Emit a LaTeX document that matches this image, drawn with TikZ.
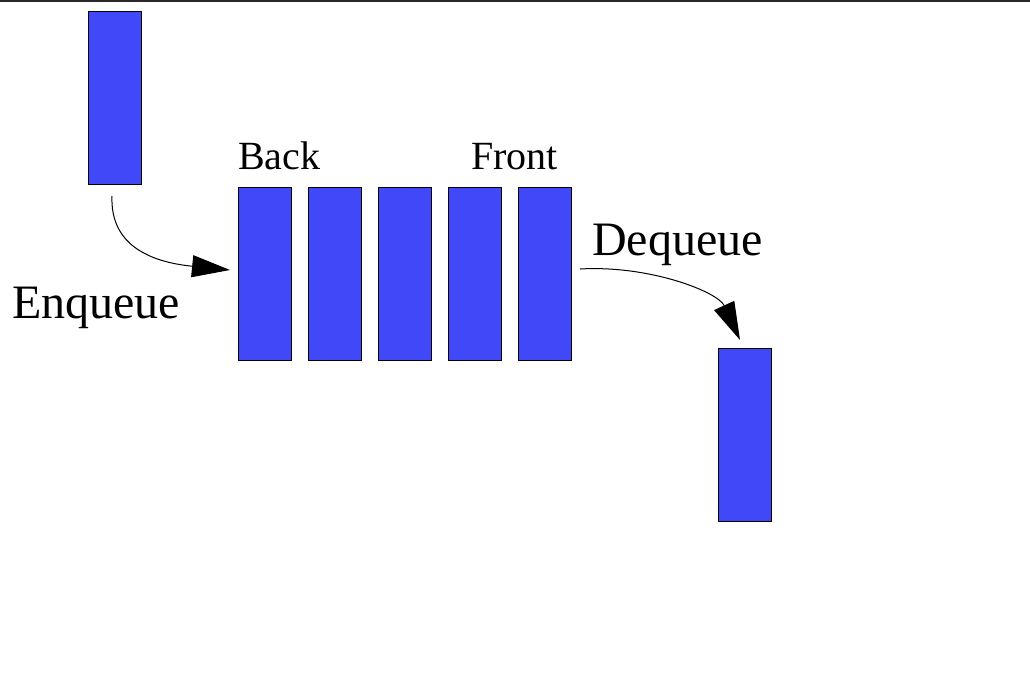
\documentclass[tikz,border=0pt]{standalone}
\usepackage{fontspec}
\setmainfont{Liberation Serif}
\usetikzlibrary{arrows.meta}
\definecolor{qblue}{RGB}{64,72,248}
\definecolor{topline}{RGB}{40,40,40}
\tikzset{
  qbox/.style={draw=black, line width=1.5pt, fill=qblue, minimum width=53pt, minimum height=173pt, inner sep=0pt},
  biglabel/.style={anchor=base west, inner sep=0pt, font=\fontsize{48}{52}\selectfont},
  smalllabel/.style={anchor=base west, inner sep=0pt, font=\fontsize{40}{44}\selectfont},
  qarrow/.style={line width=1pt, -{Triangle[length=38pt, width=22pt]}}
}
\begin{document}
\begin{tikzpicture}[x=1pt, y=-1pt]
\useasboundingbox (0,0) rectangle (1030,682);
\fill[topline] (0,0) rectangle (1030,2);
% incoming element
\node[qbox] (in) at (115,98) {};
% queue
\node[qbox] (q1) at (265,274) {};
\node[qbox] (q2) at (335,274) {};
\node[qbox] (q3) at (405,274) {};
\node[qbox] (q4) at (475,274) {};
\node[qbox] (q5) at (545,274) {};
% outgoing element
\node[qbox] (out) at (745,435) {};
% labels
\node[smalllabel] (back) at (238,169) {Back};
\node[smalllabel] (front) at (471,169) {Front};
\node[biglabel] (enq) at (12,318) {Enqueue};
\node[biglabel] (deq) at (592,255) {Dequeue};
% arrow end points
\coordinate (enqs) at (112,196);
\coordinate (enqe) at (230,270);
\coordinate (deqs) at (580,269);
\coordinate (deqe) at (740,340);
\draw[qarrow] (enqs) .. controls (110,245) and (150,262) .. (enqe);
\draw[qarrow] (deqs) .. controls (650,265) and (718,292) .. (deqe);
\end{tikzpicture}
\end{document}
